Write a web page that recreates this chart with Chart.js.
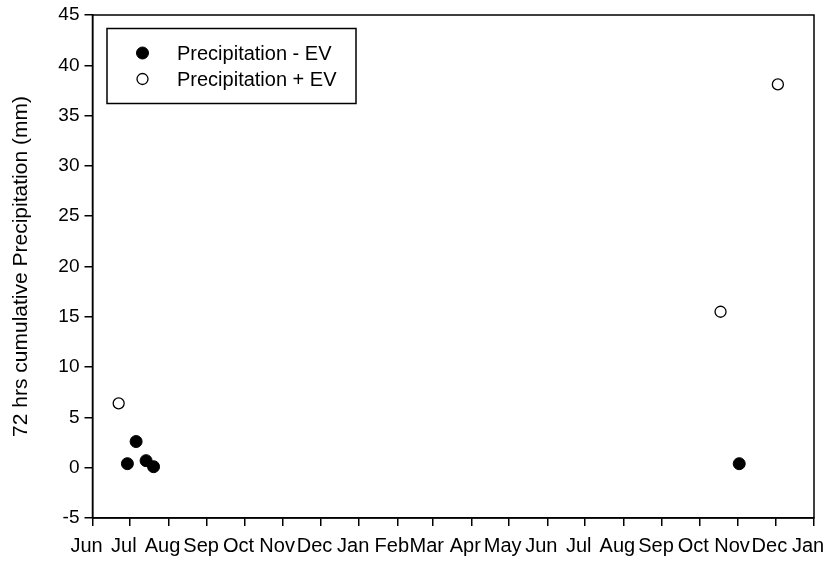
<!DOCTYPE html>
<html>
<head>
<meta charset="utf-8">
<script src="https://cdn.jsdelivr.net/npm/chart.js@4.4.1/dist/chart.umd.min.js"></script>
<style>
  html, body { margin: 0; padding: 0; background: #fff; }
  #wrap { width: 828px; height: 561px; }
</style>
</head>
<body>
<div id="wrap"><canvas id="grafico" width="828" height="561"></canvas></div>
<script>
// datos
var startDate = '2012-06-01';
var endDate = '2014-01-01';
var monthLabels = ['Jun', 'Jul', 'Aug', 'Sep', 'Oct', 'Nov', 'Dec', 'Jan', 'Feb', 'Mar',
                   'Apr', 'May', 'Jun', 'Jul', 'Aug', 'Sep', 'Oct', 'Nov', 'Dec', 'Jan'];
var yTicks = [-5, 0, 5, 10, 15, 20, 25, 30, 35, 40, 45];

var sinEvFechas = ['2012-06-29', '2012-07-06', '2012-07-14', '2012-07-20', '2013-11-02'];
var sinEvValores = [0.4, 2.6, 0.7, 0.1, 0.4];

var conEvFechas = ['2012-06-22', '2013-10-18', '2013-12-03'];
var conEvValores = [6.4, 15.5, 38.1];

function dias(fecha) {
    var d = fecha.split('-');
    var s = startDate.split('-');
    return (Date.UTC(+d[0], d[1] - 1, +d[2]) - Date.UTC(+s[0], s[1] - 1, +s[2])) / 86400000;
}

function puntos(fechas, valores) {
    return fechas.map(function (f, i) { return { x: dias(f), y: valores[i] }; });
}

// inicio de cada mes en dias desde startDate (el ultimo es endDate)
var s0 = startDate.split('-');
var inicioMes = monthLabels.map(function (m, i) {
    return (Date.UTC(+s0[0], s0[1] - 1 + i, 1) - Date.UTC(+s0[0], s0[1] - 1, 1)) / 86400000;
});

var fuente = "'Liberation Sans', Arial, sans-serif";

// marco del grafico y leyenda con borde
var marco = {
    id: 'marco',
    afterDraw: function (chart) {
        var ctx = chart.ctx;
        var a = chart.chartArea;
        ctx.save();
        ctx.strokeStyle = '#000';
        ctx.lineWidth = 1.5;
        ctx.strokeRect(a.left, a.top, a.right - a.left, a.bottom - a.top);

        // leyenda
        ctx.strokeRect(107, 28.5, 249, 75);
        ctx.font = '20px ' + fuente;
        ctx.textBaseline = 'middle';
        chart.data.datasets.forEach(function (ds, i) {
            var y = 53 + i * 26;
            ctx.beginPath();
            ctx.arc(142.5, y, ds.pointRadius, 0, Math.PI * 2);
            ctx.fillStyle = ds.pointBackgroundColor;
            ctx.fill();
            ctx.lineWidth = ds.pointBorderWidth;
            ctx.strokeStyle = '#000';
            ctx.stroke();
            ctx.fillStyle = '#000';
            ctx.fillText(ds.label, 177, y + 1);
        });
        ctx.restore();
    }
};

var ctx = document.getElementById('grafico').getContext('2d');
var grafico = new Chart(ctx, {
    type: 'scatter',
    data: {
        datasets: [{
            label: 'Precipitation - EV',
            data: puntos(sinEvFechas, sinEvValores),
            pointRadius: 6,
            pointBackgroundColor: '#000',
            pointBorderColor: '#000',
            pointBorderWidth: 1
        }, {
            label: 'Precipitation + EV',
            data: puntos(conEvFechas, conEvValores),
            pointRadius: 5.5,
            pointBackgroundColor: '#fff',
            pointBorderColor: '#000',
            pointBorderWidth: 1.3
        }]
    },
    options: {
        responsive: false,
        animation: false,
        layout: { padding: { left: 0, right: 14, top: 15, bottom: 0 } },
        plugins: {
            legend: { display: false },
            tooltip: { enabled: false }
        },
        scales: {
            x: {
                type: 'linear',
                min: 0,
                max: dias(endDate),
                afterBuildTicks: function (scale) {
                    scale.ticks = inicioMes.map(function (v) { return { value: v }; });
                    scale.ticks[scale.ticks.length - 1].value = dias(endDate);
                },
                afterFit: function (scale) {
                    scale.height = 43;
                    scale.paddingLeft = 0;
                    scale.paddingRight = 0;
                },
                grid: { drawOnChartArea: false, drawTicks: true, tickLength: 8, color: '#000', lineWidth: 1.5 },
                border: { display: true, color: '#000', width: 1.5 },
                ticks: {
                    autoSkip: false,
                    maxRotation: 0,
                    padding: 8,
                    labelOffset: -6,
                    color: '#000',
                    font: { family: fuente, size: 20 },
                    callback: function (v, i) { return monthLabels[i]; }
                }
            },
            y: {
                min: -5,
                max: 45,
                afterBuildTicks: function (scale) {
                    scale.ticks = yTicks.map(function (v) { return { value: v }; });
                },
                afterFit: function (scale) {
                    scale.width = 92.5;
                    scale.paddingTop = 0;
                    scale.paddingBottom = 0;
                },
                grid: { drawOnChartArea: false, drawTicks: true, tickLength: 8, color: '#000', lineWidth: 1.5 },
                border: { display: true, color: '#000', width: 1.5 },
                title: {
                    display: true,
                    text: '72 hrs cumulative Precipitation (mm)',
                    color: '#000',
                    font: { family: fuente, size: 21 },
                    padding: { top: 9, bottom: 0 }
                },
                ticks: {
                    padding: 5,
                    color: '#000',
                    font: { family: fuente, size: 19 }
                }
            }
        }
    },
    plugins: [marco]
});
</script>
</body>
</html>
